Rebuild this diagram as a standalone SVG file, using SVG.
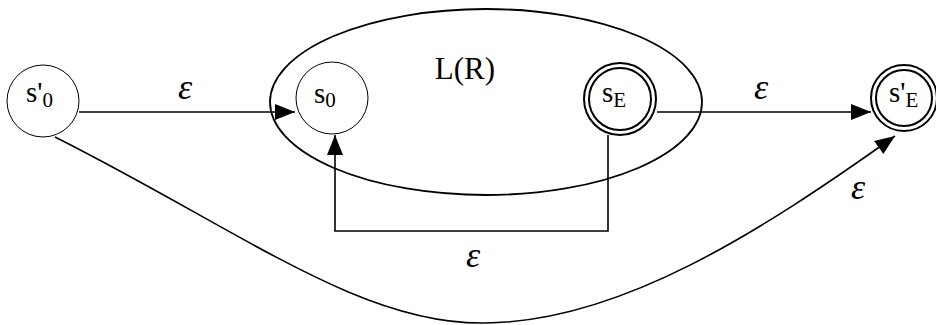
<svg xmlns="http://www.w3.org/2000/svg" width="936" height="325" viewBox="0 0 936 325">
<defs>
<style>
.st{fill:#fff;stroke:#000;stroke-width:1}
.dbl{fill:none;stroke:#000;stroke-width:2}
.ln{fill:none;stroke:#000;stroke-width:1.6}
.lbl{font-family:"Liberation Serif","Times New Roman",serif;font-size:29px;fill:#000}
.sub{font-size:21px}
.eps{font-family:"Liberation Serif","Times New Roman",serif;font-size:36px;font-style:italic;fill:#000}
</style>
<marker id="ah" viewBox="0 0 20 20" refX="20" refY="10" markerWidth="20" markerHeight="20" markerUnits="userSpaceOnUse" orient="auto">
<path d="M0,2 L20,10 L0,18 Z" fill="#000"/>
</marker>
</defs>
<rect width="936" height="325" fill="#fff"/>
<g id="region-LR">
<ellipse cx="486" cy="102" rx="216" ry="93" class="ln" style="stroke-width:1.8"/>
<text x="465" y="79" class="lbl" text-anchor="middle" style="font-size:31px">L(R)</text>
</g>
<g id="connectors">
<line x1="79" y1="112" x2="295" y2="112" class="ln" marker-end="url(#ah)"/>
<line x1="657" y1="112" x2="871" y2="112" class="ln" marker-end="url(#ah)"/>
<polyline points="608,135 608,231 335,231 335,135" class="ln" marker-end="url(#ah)"/>
<path d="M55,137 C240,230 360,325 485,323 C620,322 760,232 895,136" class="ln" marker-end="url(#ah)"/>
<text x="185" y="99" class="eps" text-anchor="middle">ε</text>
<text x="761" y="99" class="eps" text-anchor="middle">ε</text>
<text x="858" y="199" class="eps" text-anchor="middle">ε</text>
<text x="473" y="267" class="eps" text-anchor="middle">ε</text>
</g>
<g id="node-s0prime">
<circle cx="43" cy="101" r="36" class="st"/>
<text x="26" y="102" class="lbl">s'<tspan class="sub" dy="5">0</tspan></text>
</g>
<g id="node-s0">
<circle cx="332" cy="98" r="36" class="st"/>
<text x="314" y="103" class="lbl">s<tspan class="sub" dy="4">0</tspan></text>
</g>
<g id="node-sE">
<circle cx="620" cy="99" r="36" class="dbl"/>
<circle cx="620" cy="99" r="31" class="dbl"/>
<text x="602" y="102" class="lbl">s<tspan class="sub" dy="5">E</tspan></text>
</g>
<g id="node-sEprime">
<circle cx="904" cy="98" r="33" class="dbl"/>
<circle cx="904" cy="98" r="28" class="dbl"/>
<text x="889" y="102" class="lbl">s'<tspan class="sub" dy="5">E</tspan></text>
</g>
</svg>
